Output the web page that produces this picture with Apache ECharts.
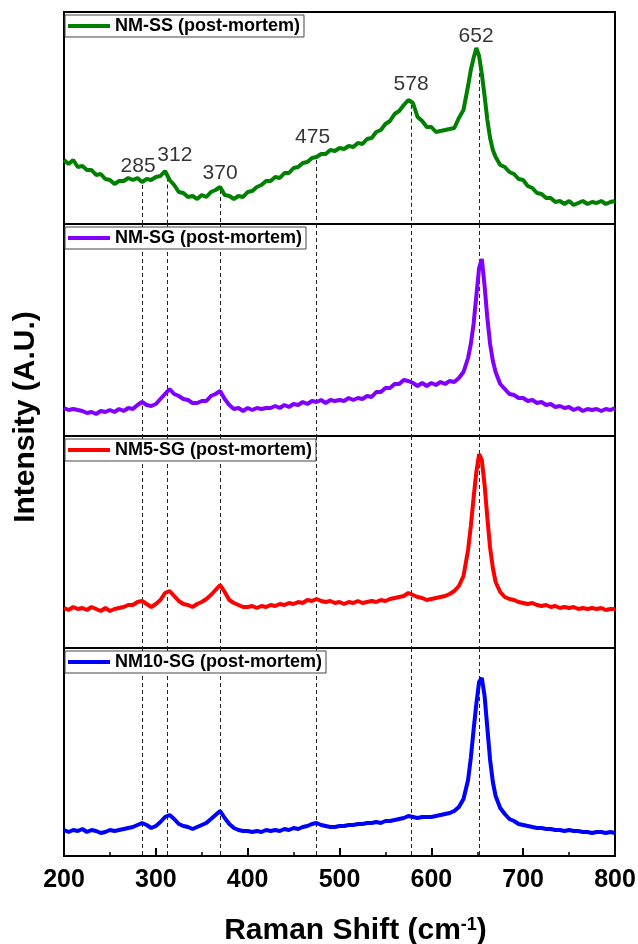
<!DOCTYPE html>
<html>
<head>
<meta charset="utf-8">
<script src="https://cdn.jsdelivr.net/npm/echarts@6/dist/echarts.min.js"></script>
<style>
  html, body { margin: 0; padding: 0; background: #fff; }
  #chart { width: 638px; height: 944px; }
</style>
</head>
<body>
<div id="chart"></div>
<script>
// Raman shift (cm-1), shared by all four spectra
var ramanShift = [
  200,205,210,215,220,225,230,235,240,245,
  250,255,260,265,270,275,280,285,290,295,
  300,305,310,315,320,325,330,335,340,345,
  350,355,360,365,370,375,380,385,390,395,
  400,405,410,415,420,425,430,435,440,445,
  450,455,460,465,470,475,480,485,490,495,
  500,505,510,515,520,525,530,535,540,545,
  550,555,560,565,570,575,580,585,590,595,
  600,605,610,615,620,625,630,635,640,643,
  646,649,652,655,658,661,664,667,670,675,
  680,685,690,695,700,705,710,715,720,725,
  730,735,740,745,750,755,760,765,770,775,
  780,785,790,795,800
];

// intensities (a.u., each panel on its own scale)
var nmSS = [
  64,60,64,57,58,54,54,49,50,45,
  44,40,43,43,46,44,46,42,45,44,
  47,48,53,44,39,32,31,27,28,25,
  29,27,32,34,37,29,28,25,28,27,
  32,33,37,39,43,43,47,46,51,51,
  56,57,61,62,66,67,70,70,74,73,
  76,75,78,77,81,80,85,86,92,94,
  100,103,110,113,119,124,121,107,103,97,
  97,92,93,94,95,96,106,114,138,154,
  166,176,168,150,128,104,86,74,67,59,
  57,52,50,45,44,38,36,31,30,26,
  26,22,23,20,23,19,21,23,20,22,
  21,23,20,22,23
];
var nmSG = [
  28,26,27,26,25,23,24,22,25,24,
  26,24,27,25,28,27,31,34,31,30,
  32,37,42,47,42,40,37,36,33,33,
  35,35,40,42,45,37,31,27,28,25,
  28,26,28,27,28,28,30,28,31,29,
  32,31,34,32,35,34,36,33,36,35,
  36,35,38,36,38,37,40,39,44,44,
  48,48,52,52,56,55,53,50,53,50,
  53,51,54,52,55,54,58,64,78,92,
  112,140,168,177,150,118,92,75,64,52,
  47,42,41,38,38,35,36,33,34,31,
  32,29,30,28,29,26,28,25,27,26,
  27,25,27,26,28
];
var nm5SG = [
  40,38,41,39,40,38,41,39,37,40,
  37,39,40,41,43,43,46,47,44,41,
  44,48,55,57,52,47,44,43,41,44,
  46,49,53,58,63,56,48,45,43,41,
  41,42,40,42,41,43,42,44,43,45,
  44,46,45,48,47,49,47,46,47,45,
  46,44,46,45,47,45,46,47,46,48,
  47,49,50,51,52,55,53,51,50,48,
  49,50,51,52,54,57,62,72,98,122,
  150,176,194,188,163,130,100,80,66,56,
  51,49,48,46,45,44,45,43,42,43,
  41,42,40,41,40,41,39,40,39,40,
  39,40,38,39,39
];
var nm10SG = [
  26,24,26,25,27,24,26,25,23,24,
  26,25,26,27,28,29,31,33,31,28,
  30,34,39,41,37,32,30,29,27,29,
  31,33,37,41,45,38,32,28,26,25,
  25,24,25,24,26,25,26,25,27,26,
  28,27,29,30,32,33,31,30,29,29,
  30,30,31,31,32,32,33,33,34,33,
  35,35,36,37,38,40,39,38,39,39,
  39,40,41,42,43,45,49,57,76,98,
  126,152,174,178,160,128,96,74,60,48,
  42,37,35,32,31,30,29,28,28,27,
  27,26,26,25,26,25,25,24,24,23,
  24,24,23,24,23
];

var seriesNames = ['NM-SS (post-mortem)', 'NM-SG (post-mortem)', 'NM5-SG (post-mortem)', 'NM10-SG (post-mortem)'];
var seriesValues = [nmSS, nmSG, nm5SG, nm10SG];
var seriesColors = ['#008000', '#8000ff', '#ff0000', '#0000ff'];

// marked peak positions
var peakShift = [285, 312, 370, 475, 578, 652];
var peakLabels = ['285', '312', '370', '475', '578', '652'];

var FONT = 'Liberation Sans, Arial, Helvetica, sans-serif';
var gridTop = [12, 224, 436, 648];
var gridHeight = [212, 212, 212, 208];

var myChart = echarts.init(document.getElementById('chart'));

// value of a spectrum at x (used to start the dashed lines under the top curve)
function valueAt(vals, x) {
    for (var i = 1; i < ramanShift.length; i++) {
        if (ramanShift[i] >= x) {
            var t = (x - ramanShift[i - 1]) / (ramanShift[i] - ramanShift[i - 1]);
            return vals[i - 1] + t * (vals[i] - vals[i - 1]);
        }
    }
    return vals[vals.length - 1];
}

var grids = [], xAxes = [], yAxes = [], series = [], legends = [];
for (var i = 0; i < 4; i++) {
    var isBottom = i === 3;
    grids.push({
        left: 64, width: 551, top: gridTop[i], height: gridHeight[i],
        show: true, borderColor: '#000', borderWidth: 2, backgroundColor: 'transparent',
        outerBoundsMode: 'none'
    });
    xAxes.push({
        gridIndex: i, type: 'value', min: 200, max: 800, interval: 100,
        axisLine: { show: false },
        axisTick: { show: isBottom, inside: true, length: 8, lineStyle: { color: '#000', width: 2 } },
        minorTick: { show: isBottom, splitNumber: 2, length: 4, lineStyle: { color: '#000', width: 1.5 } },
        splitLine: { show: false },
        axisLabel: { show: isBottom, color: '#000', fontSize: 25, fontWeight: 'bold', fontFamily: FONT, margin: 12 },
        name: isBottom ? '{t|Raman Shift (cm}{s|-1}{t|)}' : '',
        nameLocation: 'middle', nameGap: 60,
        nameTextStyle: {
            padding: [0, 0, 0, 32],
            rich: {
                t: { fontSize: 30, fontWeight: 'bold', fontFamily: FONT, color: '#000' },
                s: { fontSize: 18, fontWeight: 'bold', fontFamily: FONT, color: '#000', verticalAlign: 'top', padding: [0, 0, 12, 0] }
            }
        }
    });
    yAxes.push({
        gridIndex: i, type: 'value', min: 0, max: gridHeight[i], show: false
    });

    var vals = seriesValues[i];
    var lineData = peakShift.map(function (p) {
        var topVal = i === 0 ? valueAt(vals, p) - 3 : gridHeight[i];
        return [{ coord: [p, topVal] }, { coord: [p, 0] }];
    });
    series.push({
        name: seriesNames[i], type: 'line', xAxisIndex: i, yAxisIndex: i,
        data: ramanShift.map(function (x, j) { return [x, vals[j]]; }),
        showSymbol: false, smooth: false,
        lineStyle: { color: seriesColors[i], width: 4 },
        itemStyle: { color: seriesColors[i] },
        markLine: {
            silent: true, symbol: 'none', z: 1,
            label: { show: false },
            lineStyle: { color: '#222', width: 1, type: [4, 3] },
            data: lineData
        },
        z: 3
    });
    legends.push({
        data: [seriesNames[i]], left: 65, top: gridTop[i] + 3,
        backgroundColor: '#fff', borderColor: '#444', borderWidth: 1,
        padding: [2, 4, 2, 3], icon: 'rect', itemWidth: 42, itemHeight: 4,
        selectedMode: false,
        textStyle: { color: '#000', fontSize: 18, fontWeight: 'bold', fontFamily: FONT }
    });
}

// peak numbers above the top spectrum
var labelOffsets = [[-4, 0], [8, -4], [0, 2], [-4, -4], [0, -2], [-3, -4]];
series.push({
    type: 'scatter', xAxisIndex: 0, yAxisIndex: 0, symbolSize: 0, silent: true, z: 5,
    data: peakShift.map(function (p, k) {
        return {
            value: [p, valueAt(nmSS, p)],
            label: {
                show: true, formatter: peakLabels[k], offset: labelOffsets[k],
                color: '#000', fontSize: 21, fontFamily: FONT
            }
        };
    }),
    label: { position: 'top', distance: 5, color: '#000', fontSize: 21, fontFamily: FONT }
});

var option = {
    backgroundColor: '#fff',
    animation: false,
    grid: grids,
    xAxis: xAxes,
    yAxis: yAxes,
    legend: legends,
    series: series,
    graphic: [{
        type: 'text', x: 26, y: 417, rotation: Math.PI / 2,
        style: {
            text: 'Intensity (A.U.)', fill: '#000',
            font: 'bold 30px ' + FONT, align: 'center', verticalAlign: 'middle'
        }
    }]
};
myChart.setOption(option);
</script>
</body>
</html>
